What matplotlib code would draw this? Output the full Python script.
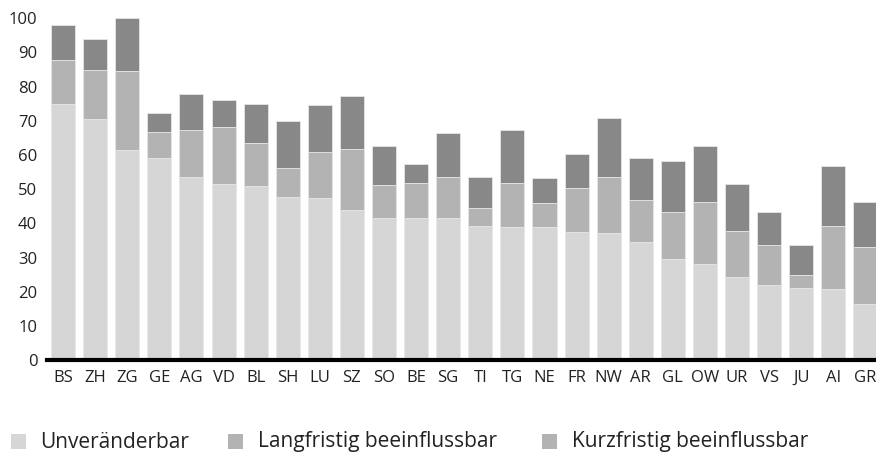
import matplotlib
matplotlib.use("Agg")
import matplotlib.pyplot as plt
from matplotlib.patches import Rectangle
import numpy as np

plt.rcParams['font.family'] = ['Open Sans', 'DejaVu Sans']

cantons = ["BS", "ZH", "ZG", "GE", "AG", "VD", "BL", "SH", "LU", "SZ", "SO", "BE", "SG",
           "TI", "TG", "NE", "FR", "NW", "AR", "GL", "OW", "UR", "VS", "JU", "AI", "GR"]
unveraenderbar = [75.0, 70.6, 61.5, 59.0, 53.5, 51.6, 51.0, 47.7, 47.3, 43.8, 41.6, 41.6, 41.6,
                  39.3, 39.0, 39.0, 37.4, 37.2, 34.6, 29.6, 28.1, 24.4, 21.9, 21.1, 20.8, 16.4]
langfristig = [12.8, 14.3, 23.0, 7.7, 13.8, 16.5, 12.6, 8.5, 13.6, 17.9, 9.6, 10.2, 12.0,
               5.3, 12.8, 6.9, 13.0, 16.4, 12.2, 13.6, 18.1, 13.3, 11.9, 3.9, 18.5, 16.8]
kurzfristig = [10.2, 9.1, 15.7, 5.5, 10.6, 8.0, 11.3, 13.7, 13.7, 15.6, 11.3, 5.5, 12.7,
               9.0, 15.4, 7.4, 9.9, 17.2, 12.4, 14.9, 16.3, 13.8, 9.4, 8.6, 17.4, 13.0]
yticks = [0, 10, 20, 30, 40, 50, 60, 70, 80, 90, 100]
legend_labels = ["Unveränderbar", "Langfristig beeinflussbar", "Kurzfristig beeinflussbar"]

c_unv = "#d6d6d6"
c_lang = "#b3b3b3"
c_kurz = "#888888"
txt = "#222222"

W, H = 876, 454
fig = plt.figure(figsize=(W / 100, H / 100), dpi=100)
ax = fig.add_axes([47 / W, 1 - 360 / H, (876 - 47) / W, (360 - 11.5) / H])

x = np.arange(len(cantons))
u = np.array(unveraenderbar)
l = np.array(langfristig)
k = np.array(kurzfristig)
ec = "#e6e6e6"
ax.bar(x, u, width=0.75, color=c_unv, edgecolor=ec, linewidth=0.6)
ax.bar(x, l, bottom=u, width=0.75, color=c_lang, edgecolor=ec, linewidth=0.6)
ax.bar(x, k, bottom=u + l, width=0.75, color=c_kurz, edgecolor=ec, linewidth=0.6)

ax.set_xlim(-0.5, (876 - 63) / 32.1)
ax.set_ylim(0, 102)
ax.set_yticks(yticks)
ax.set_yticklabels([str(v) for v in yticks], fontsize=12, color=txt)
ax.set_xticks(x)
ax.set_xticklabels(cantons, fontsize=12, color=txt)
ax.tick_params(axis='both', length=0)
ax.tick_params(axis='y', pad=7)
ax.tick_params(axis='x', pad=7)
for s in ["top", "right", "left"]:
    ax.spines[s].set_visible(False)
ax.spines["bottom"].set_linewidth(3)
ax.spines["bottom"].set_color("black")
ax.spines["bottom"].set_zorder(5)

# legend drawn in figure pixel coordinates
legend_colors = [c_unv, c_lang, c_lang]
sq_x = [11, 228, 542]
tx_x = [40, 258, 572]
yc = 441
sq = 15
for col, sx, tx, lab in zip(legend_colors, sq_x, tx_x, legend_labels):
    fig.add_artist(Rectangle((sx / W, 1 - (yc + sq / 2) / H), sq / W, sq / H,
                             transform=fig.transFigure, facecolor=col, edgecolor="none"))
    fig.text(tx / W, 1 - (yc + 1) / H, lab, fontsize=15, color=txt, ha="left", va="center")

fig.savefig("out.png", dpi=100)
